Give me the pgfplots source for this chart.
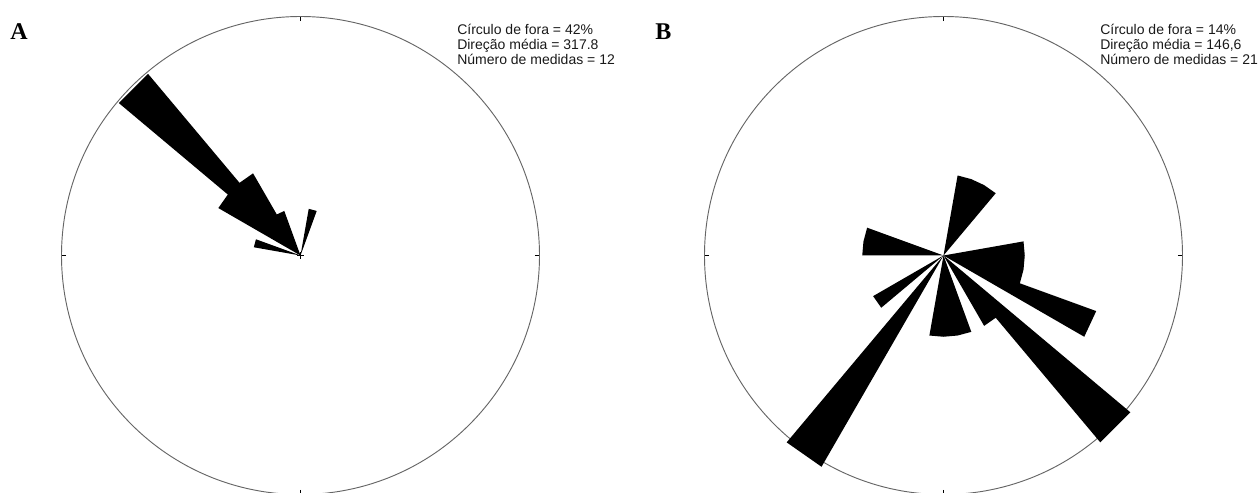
\documentclass[border=0pt]{standalone}
\usepackage{fontspec}
\setmainfont{Liberation Sans}
\newfontfamily\serifb{Liberation Serif}
\usepackage{pgfplots}
\pgfplotsset{compat=1.18}
\usepgfplotslibrary{polar}

\pgfplotsset{
  rose/.style={
    width=358.5pt, height=358.5pt, scale only axis,
    anchor=center,
    ymin=0,
    xtick={0,90,180,270}, xticklabels={},
    ytick=\empty, yticklabels={},
    grid=none,
    tick align=outside,
    major tick length=3.5pt,
    tick style={black, line width=0.6pt},
    separate axis lines,
    x axis line style={black!60, line width=0.7pt},
    y axis line style={draw=none},
    clip=false,
  },
  petal/.style={fill=black, draw=none, mark=none, x filter/.expression={90-x}},
  ctr/.style={black, line width=0.5pt, mark=+, mark size=2.4pt, only marks},
}

\begin{document}
\begin{tikzpicture}
\useasboundingbox (0,0) rectangle (943.5pt,369.75pt);
\clip (0,0) rectangle (943.5pt,369.75pt);

% ---------------- Panel A ----------------
\begin{polaraxis}[rose, at={(225.375pt,178.125pt)}, ymax=42]
  % azimuth (deg, clockwise from N), radius (% of measures)
  \addplot[petal] coordinates {(0,0) (280,8.33) (290,8.33) (0,0)};
  \addplot[petal] coordinates {(0,0) (300,16.67) (310,16.67) (310,41.67) (320,41.67)
                               (320,16.67) (330,16.67) (330,8.33) (340,8.33) (0,0)};
  \addplot[petal] coordinates {(0,0) (10,8.33) (20,8.33) (0,0)};
  \addplot[ctr] coordinates {(0,0)};
\end{polaraxis}

% ---------------- Panel B ----------------
\begin{polaraxis}[rose, at={(707.625pt,178.125pt)}, ymax=14]
  \addplot[petal] coordinates {(0,0) (10,4.76) (20,4.76) (30,4.76) (40,4.76) (0,0)};
  \addplot[petal] coordinates {(0,0) (80,4.76) (90,4.76) (100,4.76) (110,4.76)
                               (110,9.52) (120,9.52) (0,0)};
  \addplot[petal] coordinates {(0,0) (130,14.29) (140,14.29) (140,4.76) (150,4.76) (0,0)};
  \addplot[petal] coordinates {(0,0) (160,4.76) (170,4.76) (180,4.76) (190,4.76) (0,0)};
  \addplot[petal] coordinates {(0,0) (210,14.29) (220,14.29) (0,0)};
  \addplot[petal] coordinates {(0,0) (230,4.76) (240,4.76) (0,0)};
  \addplot[petal] coordinates {(0,0) (270,4.76) (280,4.76) (290,4.76) (0,0)};
\end{polaraxis}

% ---------------- Labels ----------------
\node[anchor=base west, inner sep=0, font=\serifb\bfseries\fontsize{18pt}{20pt}\selectfont] at (7.5pt,340.125pt) {A};
\node[anchor=base west, inner sep=0, font=\serifb\bfseries\fontsize{18pt}{20pt}\selectfont] at (491.25pt,340.125pt) {B};

\begin{scope}[every node/.style={anchor=base west, inner sep=0, text=black!90, font=\fontsize{10.5pt}{12pt}\selectfont}]
  \node at (342.75pt,343.5pt) {Círculo de fora = 42\%};
  \node at (342.75pt,332.25pt) {Direção média = 317.8};
  \node at (342.75pt,321pt) {Número de medidas = 12};
  \node at (825pt,343.5pt) {Círculo de fora = 14\%};
  \node at (825pt,332.25pt) {Direção média = 146,6};
  \node at (825pt,321pt) {Número de medidas = 21};
\end{scope}
\end{tikzpicture}
\end{document}
